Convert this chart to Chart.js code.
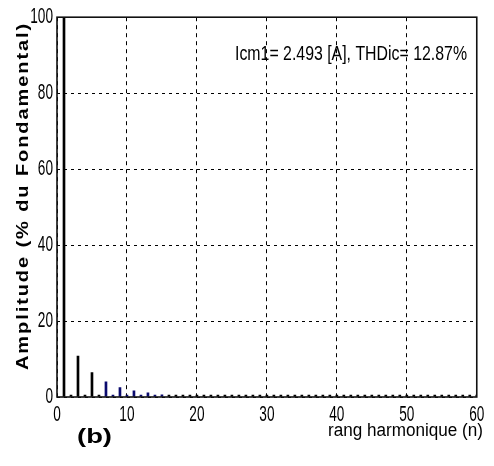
<!DOCTYPE html>
<html><head><meta charset="utf-8">
<script src="https://cdn.jsdelivr.net/npm/chart.js@4.4.1/dist/chart.umd.min.js"></script>
<style>html,body{margin:0;padding:0;background:#fff}#wrap{width:494px;height:466px}</style>
</head><body><div id="wrap"><canvas id="c" width="494" height="466"></canvas></div>
<script>
const harmonics = [1,2,3,4,5,6,7,8,9,10,11,12,13,14,15,16,17,18,19,20,21,22,23,24,25,26,27,28,29,30,31,32,33,34,35,36,37,38,39,40,41,42,43,44,45,46,47,48,49,50,51,52,53,54,55,56,57,58,59,60];
const amplitudes = [100,0.5,10.8,0.5,6.4,0.5,4.0,0.5,2.5,0.5,1.6,0.5,1.1,0.5,0.6,0.5,0.5,0.5,0.5,0.5,0.5,0.5,0.5,0.5,0.5,0.5,0.5,0.5,0.5,0.5,0.5,0.5,0.5,0.5,0.5,0.5,0.5,0.5,0.5,0.5,0.5,0.5,0.5,0.5,0.5,0.5,0.5,0.5,0.5,0.5,0.5,0.5,0.5,0.5,0.5,0.5,0.5,0.5,0.5,0.5];
const barColors = harmonics.map(n => (n>=7 && n<=15) ? '#0a0a6e' : '#000000');
const xTicks = [0,10,20,30,40,50,60];
const yTicks = [0,20,40,60,80,100];
const annotation = 'Icm1= 2.493 [A], THDic= 12.87%';
const yTitle = 'Amplitude (% du Fondamental)';
const xTitle = 'rang harmonique (n)';
const panel = '(b)';

const SANS = "'Liberation Sans', Arial, sans-serif";
const TICK_SX = 0.62;

function fitText(ctx, text, x, y, width, align) {
  const w = ctx.measureText(text).width;
  const sx = width / w;
  ctx.save();
  ctx.translate(x, y);
  ctx.scale(sx, 1);
  ctx.textAlign = align;
  ctx.fillText(text, 0, 0);
  ctx.restore();
}

function narrowLabels(s) {
  s.drawLabels = function(ca) {
    const ctx = this.ctx;
    const f = ctx.fillText;
    ctx.fillText = function(t, x, y) {
      this.save(); this.translate(x, y); this.scale(TICK_SX, 1);
      f.call(this, t, 0, 0); this.restore();
    };
    try { Object.getPrototypeOf(this).drawLabels.call(this, ca); }
    finally { delete ctx.fillText; }
  };
}

const textPlugin = {
  id: 'texts',
  afterDraw(chart) {
    const ctx = chart.ctx, a = chart.chartArea;
    ctx.save();
    ctx.strokeStyle = '#111'; ctx.lineWidth = 1.6; ctx.setLineDash([]);
    ctx.strokeRect(a.left, a.top, a.right - a.left, a.bottom - a.top);
    ctx.fillStyle = '#000';
    ctx.textBaseline = 'alphabetic';
    ctx.font = "21px " + SANS;
    fitText(ctx, annotation, 235, 60, 232, 'left');
    ctx.font = "18px " + SANS;
    fitText(ctx, xTitle, 328, 436, 155, 'left');
    ctx.font = "bold 20px " + SANS;
    fitText(ctx, panel, 77, 443, 35, 'left');
    ctx.translate(28, 196);
    ctx.rotate(-Math.PI/2);
    ctx.font = "bold 16px " + SANS;
    ctx.letterSpacing = '1.5px';
    fitText(ctx, yTitle, -174, 0, 348, 'left');
    ctx.restore();
  }
};

new Chart(document.getElementById('c'), {
  type: 'bar',
  data: {
    datasets: [{
      data: harmonics.map((n,i) => ({x: n, y: amplitudes[i]})),
      backgroundColor: barColors,
      borderWidth: 0,
      barThickness: 2
    }]
  },
  options: {
    responsive: false,
    animation: false,
    layout: { padding: { top: 16, right: 12, left: 0, bottom: 0 } },
    plugins: { legend: { display: false }, tooltip: { enabled: false } },
    scales: {
      x: {
        type: 'linear', min: 0, max: 60, offset: false,
        afterBuildTicks: s => { s.ticks = xTicks.map(v => ({value: v})); },
        afterFit: s => { s.height = 69; narrowLabels(s); },
        grid: { color: '#000', lineWidth: 1, drawTicks: false, offset: false },
        border: { display: false, dash: [4,4] },
        ticks: { color: '#000', padding: 5, maxRotation: 0, font: { family: SANS, size: 22 } }
      },
      y: {
        min: 0, max: 100,
        afterBuildTicks: s => { s.ticks = yTicks.map(v => ({value: v})); },
        afterFit: s => { s.width = 57; narrowLabels(s); },
        grid: { color: '#000', lineWidth: 1, drawTicks: false, offset: false },
        border: { display: false, dash: [3,4] },
        ticks: { color: '#000', padding: 4, font: { family: SANS, size: 22 } }
      }
    }
  },
  plugins: [textPlugin]
});
</script></body></html>
